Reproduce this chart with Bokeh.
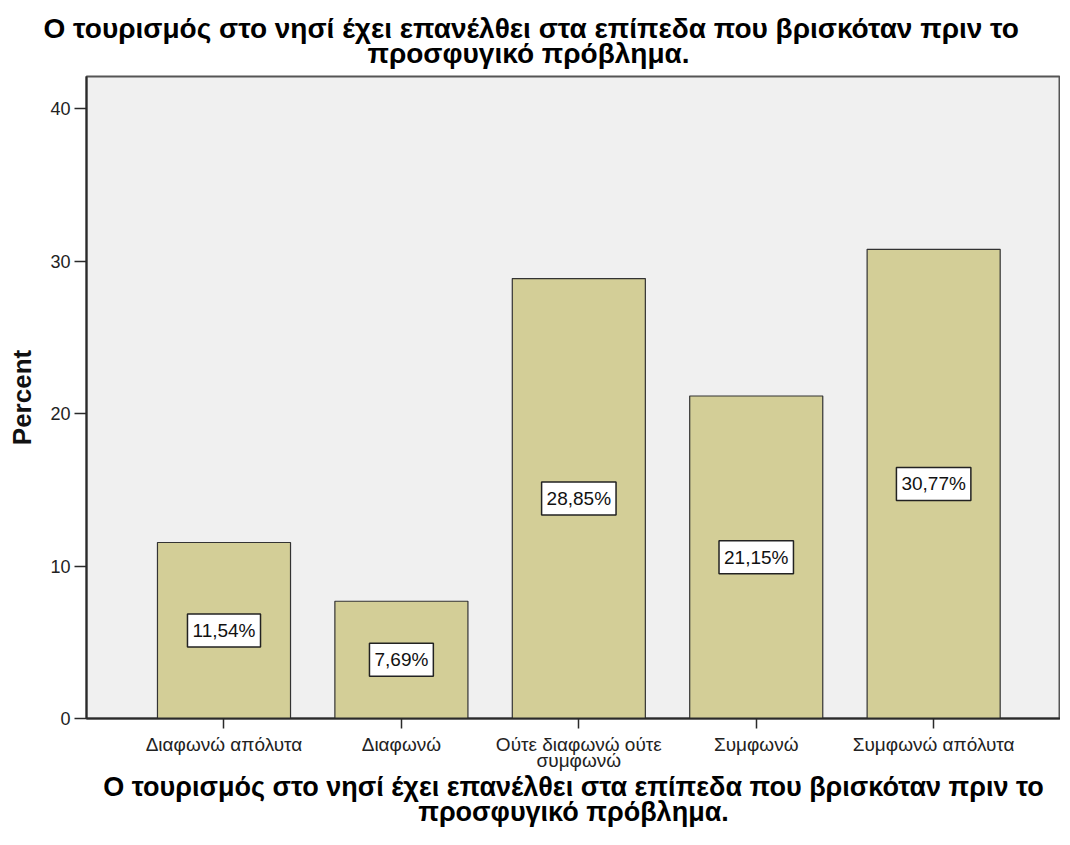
from bokeh.plotting import figure
from bokeh.models import ColumnDataSource, Label, FixedTicker, Range1d, Title
from bokeh.embed import file_html
from bokeh.resources import INLINE

# ---- data ----
categories = ["Διαφωνώ απόλυτα", "Διαφωνώ", "Ούτε διαφωνώ ούτε\nσυμφωνώ", "Συμφωνώ", "Συμφωνώ απόλυτα"]
percent = [11.54, 7.69, 28.85, 21.15, 30.77]
value_labels = ["11,54%", "7,69%", "28,85%", "21,15%", "30,77%"]
title_lines = ["Ο τουρισμός στο νησί έχει επανέλθει στα επίπεδα που βρισκόταν πριν το",
               "προσφυγικό πρόβλημα."]
y_ticks = [0, 10, 20, 30, 40]
y_label = "Percent"

# ---- layout ----
W, H = 1060, 829
FL, FT, FR = 86, 76, 0
FRAME_H = 642
FB = H - FT - FRAME_H
X0, X1 = -0.775, 4.715
Y0, Y1 = 0, 42.1

FONT = "Liberation Sans"
DARK = "#2a2a2a"

p = figure(width=W, height=H, output_backend="svg", toolbar_location=None,
           x_range=Range1d(X0, X1), y_range=Range1d(Y0, Y1),
           min_border_left=FL, min_border_top=FT, min_border_bottom=FB, min_border_right=FR)
p.background_fill_color = "#f0f0f0"
p.border_fill_color = "white"
p.outline_line_color = "#555555"
p.outline_line_width = 2
p.grid.visible = False

xs = list(range(len(categories)))
src = ColumnDataSource(dict(x=xs, top=percent))
p.vbar(x="x", top="top", width=0.75, bottom=0, source=src,
       fill_color="#d3ce97", line_color="#333333", line_width=1.2)

for xi, v, lab in zip(xs, percent, value_labels):
    p.add_layout(Label(x=xi, y=v / 2, text=lab, text_align="center", text_baseline="middle",
                       text_font=FONT, text_font_size="19px", text_color="#111111",
                       background_fill_color="white", border_line_color="#222222",
                       border_line_width=1.5, padding=(5, 6)))

# axes
ya = p.yaxis[0]
ya.ticker = FixedTicker(ticks=y_ticks)
ya.minor_tick_line_color = None
ya.major_tick_in = 0
ya.major_tick_out = 12
ya.major_tick_line_color = DARK
ya.major_tick_line_width = 1.5
ya.axis_line_color = DARK
ya.axis_line_width = 2
ya.major_label_text_font = FONT
ya.major_label_text_font_size = "18px"
ya.major_label_text_color = "#222222"
ya.major_label_standoff = 4
ya.axis_label = y_label
ya.axis_label_text_font = FONT
ya.axis_label_text_font_style = "bold"
ya.axis_label_text_font_size = "26px"
ya.axis_label_text_color = "#111111"
ya.axis_label_standoff = 10

xa = p.xaxis[0]
xa.ticker = FixedTicker(ticks=xs)
xa.major_label_overrides = {i: c for i, c in zip(xs, categories)}
xa.minor_tick_line_color = None
xa.major_tick_in = 0
xa.major_tick_out = 10
xa.major_tick_line_color = DARK
xa.major_tick_line_width = 1.5
xa.axis_line_color = DARK
xa.axis_line_width = 2
xa.major_label_text_font = FONT
xa.major_label_text_font_size = "19px"
xa.major_label_text_color = "#222222"
xa.major_label_standoff = 5
xa.major_label_text_line_height = 0.8
xa.axis_label = "\n".join(title_lines)
xa.axis_label_text_font = FONT
xa.axis_label_text_font_style = "bold"
xa.axis_label_text_font_size = "27px"
xa.axis_label_text_color = "black"
xa.axis_label_text_line_height = 0.82
xa.axis_label_standoff = -2

# top title, two lines (second line closest to plot)
p.add_layout(Title(text=title_lines[1], align="left", offset=281, standoff=16,
                   text_font=FONT, text_font_style="bold", text_font_size="28px",
                   text_color="black"), "above")
p.add_layout(Title(text=title_lines[0], align="left", offset=-43, standoff=-32,
                   text_font=FONT, text_font_style="bold", text_font_size="28px",
                   text_color="black"), "above")

open("out.html", "w").write(file_html(p, INLINE))
